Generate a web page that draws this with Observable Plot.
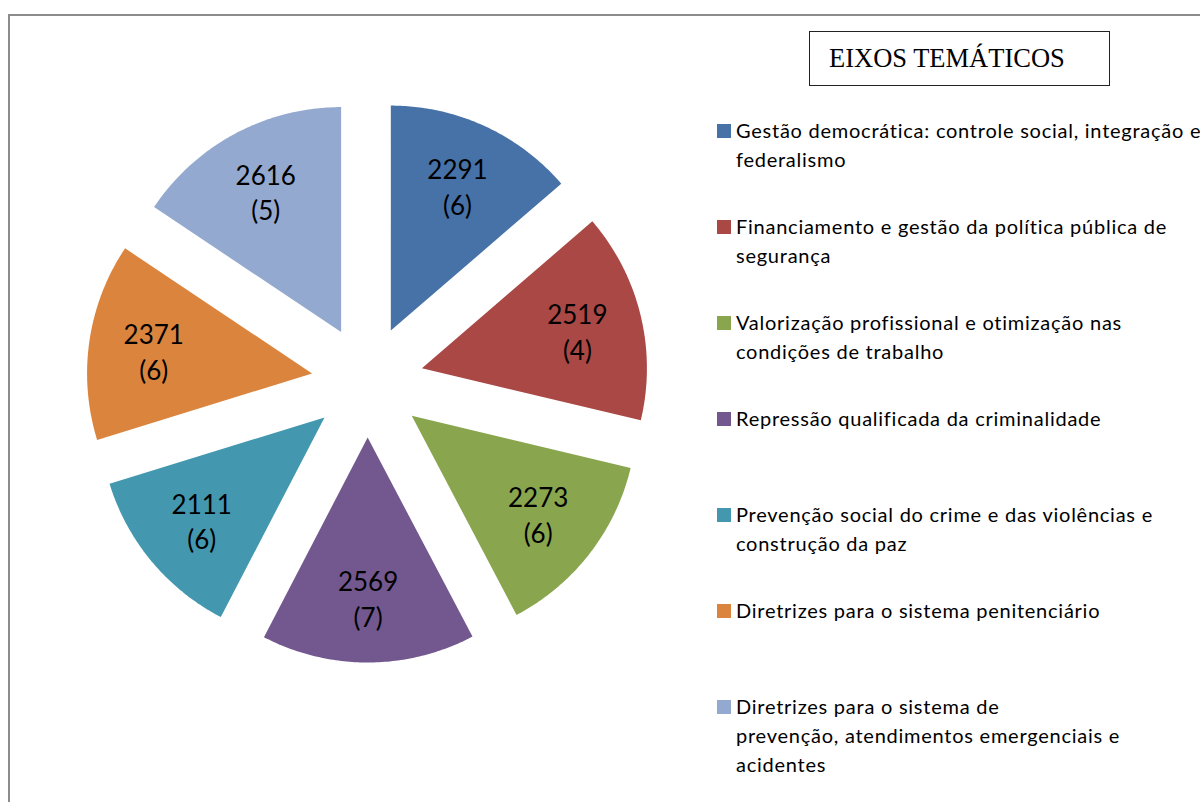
<!DOCTYPE html>
<html><head><meta charset="utf-8">
<script src="https://cdn.jsdelivr.net/npm/d3@7"></script>
<script src="https://cdn.jsdelivr.net/npm/@observablehq/plot@0.6"></script>
<style>
html,body{margin:0;padding:0;width:1200px;height:802px;overflow:hidden;background:#fff;}
#frame{position:absolute;left:8px;top:14px;width:1400px;height:1000px;border:2px solid #8c8c8c;box-sizing:border-box;}
#chart{position:absolute;left:0;top:0;}
#title{position:absolute;left:809px;top:31px;width:301px;height:55px;border:1px solid #222;box-sizing:border-box;font-family:"Liberation Serif",serif;font-size:26.5px;line-height:53px;padding-left:19px;color:#000;background:#fff;white-space:nowrap;}
#legend{position:absolute;left:717px;top:116px;font-family:Lato,sans-serif;font-size:20px;letter-spacing:0.75px;line-height:29px;color:#000;}
.row{position:relative;height:96px;white-space:pre;}
.sw{position:absolute;left:0;top:8px;width:14px;height:14px;}
.lab{position:absolute;left:19px;top:0;}
</style></head><body>
<div id="frame"></div>
<div id="chart"></div>
<div id="title">EIXOS TEMÁTICOS</div>
<div id="legend"></div>
<script>
const categories = [
  "Gestão democrática: controle social, integração e\nfederalismo",
  "Financiamento e gestão da política pública de\nsegurança",
  "Valorização profissional e otimização nas\ncondições de trabalho",
  "Repressão qualificada da criminalidade",
  "Prevenção social do crime e das violências e\nconstrução da paz",
  "Diretrizes para o sistema penitenciário",
  "Diretrizes para o sistema de\nprevenção, atendimentos emergenciais e\nacidentes"
];
const values = [2291, 2519, 2273, 2569, 2111, 2371, 2616];
const counts = [6, 4, 6, 7, 6, 6, 5];
const colors = ["#4772A7", "#A94845", "#89A54E", "#72588F", "#4398AF", "#DB843D", "#94A9CF"];

// layout (pixels)
const W = 700, H = 802, cx = 367, cy = 381, R = 225, explode = 56, labelR = 160;

const arcs = d3.pie().sort(null).value(d => d)(values);
const slicePts = [];
const labels = [];
arcs.forEach((a, i) => {
  const mid = (a.startAngle + a.endAngle) / 2;
  const ox = explode * Math.sin(mid), oy = -explode * Math.cos(mid);
  slicePts.push({cat: categories[i], x: ox, y: oy});
  const n = 80;
  for (let k = 0; k <= n; k++) {
    const t = a.startAngle + (a.endAngle - a.startAngle) * k / n;
    slicePts.push({cat: categories[i], x: ox + R * Math.sin(t), y: oy - R * Math.cos(t)});
  }
  labels.push({x: ox + labelR * Math.sin(mid), y: oy - labelR * Math.cos(mid), text: `${values[i]}\n(${counts[i]})`});
});

const chart = Plot.plot({
  width: W, height: H, margin: 0,
  x: {domain: [-cx, W - cx], range: [0, W], axis: null},
  y: {domain: [-cy, H - cy], range: [0, H], axis: null},
  color: {domain: categories, range: colors},
  style: {background: "transparent", fontFamily: "Lato, sans-serif"},
  marks: [
    Plot.line(slicePts, {x: "x", y: "y", z: "cat", fill: "cat", stroke: null}),
    Plot.text(labels, {x: "x", y: "y", text: "text", fontSize: 26, lineHeight: 1.38, fill: "#000"})
  ]
});
document.getElementById("chart").appendChild(chart);

const leg = document.getElementById("legend");
categories.forEach((c, i) => {
  const row = document.createElement("div");
  row.className = "row";
  const sw = document.createElement("div");
  sw.className = "sw"; sw.style.background = colors[i];
  const lab = document.createElement("div");
  lab.className = "lab"; lab.textContent = c;
  row.appendChild(sw); row.appendChild(lab);
  leg.appendChild(row);
});
</script>
</body></html>
